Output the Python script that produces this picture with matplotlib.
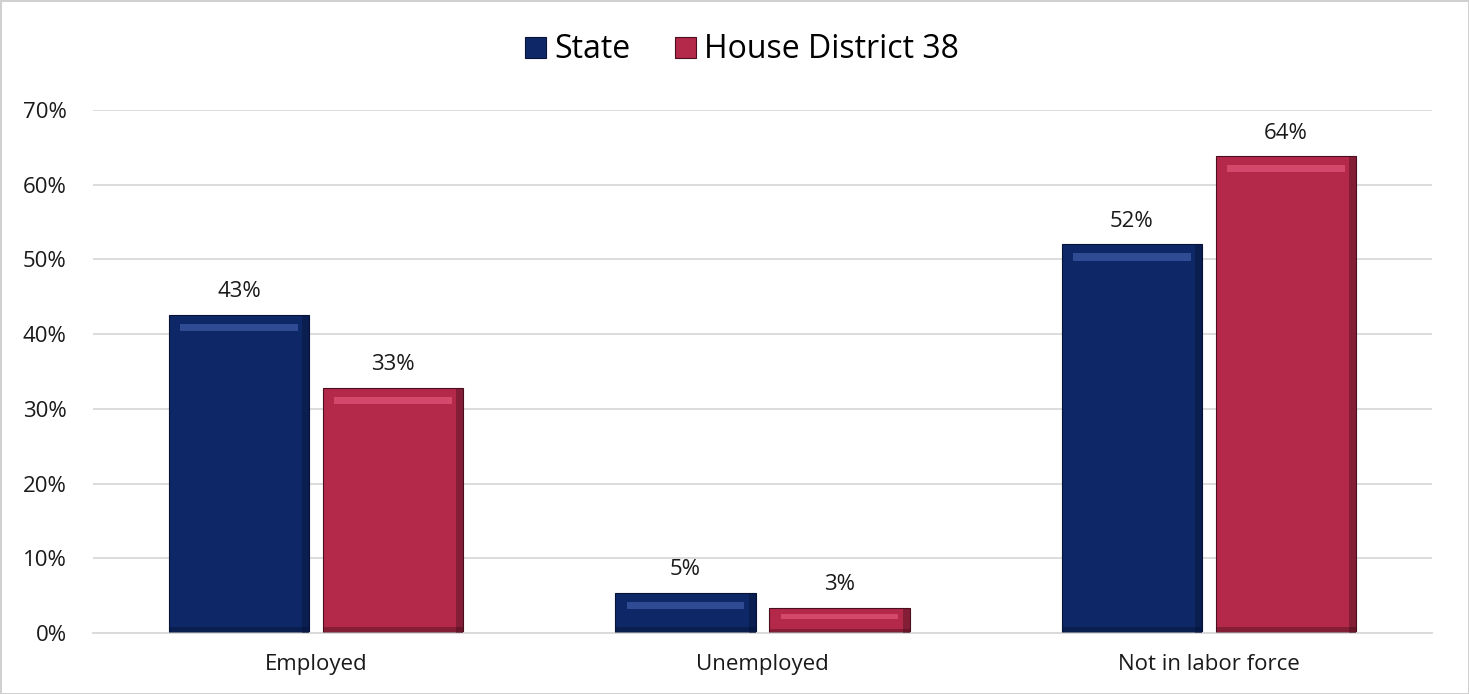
import numpy as np
import matplotlib
matplotlib.use("Agg")
from matplotlib import pyplot as plt
from matplotlib.patches import Rectangle

categories = ["Employed", "Unemployed", "Not in labor force"]
state = [0.426, 0.054, 0.520]
district = [0.328, 0.034, 0.638]
series_names = ["State", "House District 38"]
yticks = [0.0, 0.1, 0.2, 0.3, 0.4, 0.5, 0.6, 0.7]

colors = ["#0e2867", "#b4294a"]
edge_colors = ["#061236", "#4a0f1f"]
light_colors = ["#3d5aa8", "#e2577a"]

plt.rcParams['font.family'] = ['Open Sans', 'DejaVu Sans']


def bevel(ax, bars, light, dark):
    # fake the bevelled look: light band at top, dark band at bottom and right
    for b in bars:
        x, w, h = b.get_x(), b.get_width(), b.get_height()
        band = min(0.012, h * 0.25)
        ax.add_patch(Rectangle((x + w * 0.08, h - band * 1.8), w * 0.84, band * 0.8,
                               facecolor=light, edgecolor="none", alpha=0.7, zorder=3))
        ax.add_patch(Rectangle((x, 0), w, band * 0.7,
                               facecolor=dark, edgecolor="none", alpha=0.45, zorder=3))
        ax.add_patch(Rectangle((x + w * 0.95, 0), w * 0.05, h,
                               facecolor=dark, edgecolor="none", alpha=0.45, zorder=3))


def main():
    fig = plt.figure(figsize=(14.69, 6.94), dpi=100)
    fig.patch.set_edgecolor("#d0d0d0")
    fig.patch.set_linewidth(2)
    ax = fig.add_axes([0.0633, 0.0879, 0.9115, 0.7536])

    x = np.arange(len(categories))
    width = 0.314
    gap = 0.031
    handles = []
    for i, vals in enumerate([state, district]):
        offset = (i - 0.5) * (width + gap)
        bars = ax.bar(x + offset, vals, width, color=colors[i], edgecolor=edge_colors[i],
                      linewidth=0.8, zorder=2, label=series_names[i])
        bevel(ax, bars, light_colors[i], edge_colors[i])
        handles.append(bars)
        for xi, v in zip(x + offset, vals):
            ax.annotate(f"{v * 100:.0f}%", (xi, v), xytext=(0, 9), textcoords="offset points",
                        ha="center", va="bottom", fontsize=16, color="#1a1a1a")

    ax.set_xlim(-0.5, len(categories) - 0.5)
    ax.set_ylim(0, 0.7)
    ax.set_yticks(yticks)
    ax.set_yticklabels([f"{t * 100:.0f}%" for t in yticks], fontsize=16, color="#1a1a1a")
    ax.set_xticks(x)
    ax.set_xticklabels(categories, fontsize=16, color="#1a1a1a")
    ax.tick_params(axis="both", length=0)
    ax.tick_params(axis="x", pad=15)
    ax.tick_params(axis="y", pad=19)
    ax.yaxis.grid(True, color="#d9d9d9", linewidth=1.3, zorder=0)
    ax.set_axisbelow(True)
    for s in ["top", "right", "left"]:
        ax.spines[s].set_visible(False)
    ax.spines["bottom"].set_color("#d9d9d9")
    ax.spines["bottom"].set_linewidth(1.3)

    fig.legend(handles=handles, labels=series_names, loc="center", bbox_to_anchor=(0.505, 0.928),
               ncol=2, frameon=False, fontsize=23, handlelength=0.65, handleheight=0.65,
               handletextpad=0.25, columnspacing=1.4)

    fig.savefig("out.png", dpi=100)


if __name__ == "__main__":
    main()
